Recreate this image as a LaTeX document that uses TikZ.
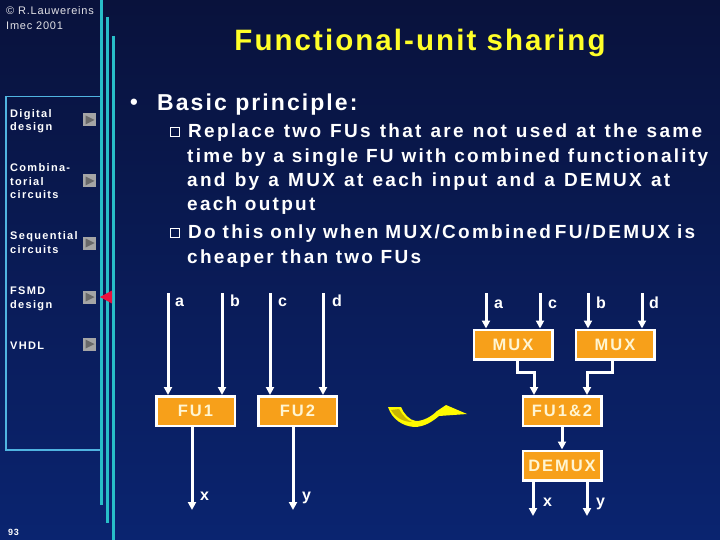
\documentclass[tikz,border=0pt]{standalone}
\usepackage{fontspec}
\setmainfont{Liberation Sans}
\newfontfamily\LSa{Liberation Sans}[LetterSpace=7]
\newfontfamily\LSc{Liberation Sans}[LetterSpace=9]
\newfontfamily\LSb{Liberation Sans}[LetterSpace=12]
\usetikzlibrary{arrows.meta}
\definecolor{bgtop}{RGB}{9,18,60}
\definecolor{bgbot}{RGB}{10,36,112}
\definecolor{fuorange}{RGB}{247,160,26}
\definecolor{ttlyellow}{RGB}{255,255,40}
\definecolor{frameblue}{RGB}{80,180,225}
\definecolor{barteal}{RGB}{40,190,200}
\definecolor{boxtext}{RGB}{255,245,210}
\definecolor{btngray}{RGB}{165,165,165}
\definecolor{btndark}{RGB}{105,105,105}
\definecolor{ptrred}{RGB}{235,15,60}
\definecolor{copygray}{RGB}{225,225,230}
\definecolor{swyellow}{RGB}{255,250,0}
\definecolor{swolive}{RGB}{200,180,0}
\tikzset{
  bar/.style={barteal, line width=3pt},
  sidetext/.style={anchor=base west, inner sep=0pt, text=white, align=left,
    font=\LSb\bfseries\fontsize{11}{13.5}\selectfont},
  btn/.style={fill=btngray, minimum size=13pt, inner sep=0pt},
  subline/.style={anchor=base west, inner sep=0pt, text=white,
    font=\LSb\bfseries\fontsize{19}{24}\selectfont},
  chk/.style={draw=white, line width=1pt, minimum size=9pt, inner sep=0pt},
  fubox/.style={draw=white, line width=2.5pt, fill=fuorange, text=boxtext,
    font=\LSb\bfseries\fontsize{16.5}{18}\selectfont,
    minimum width=78.5pt, minimum height=29.5pt, inner sep=0pt},
  arr/.style={draw=white, line width=3pt, -{Triangle[length=8pt,width=8pt]}},
  lbl/.style={anchor=base west, inner sep=0pt, text=white,
    font=\LSa\bfseries\fontsize{16}{18}\selectfont},
}
\begin{document}
\begin{tikzpicture}[x=1pt,y=-1pt]
\useasboundingbox (0,0) rectangle (720,540);
\shade[top color=bgtop, bottom color=bgbot] (0,0) rectangle (720,540);

% sidebar bars and frame
\draw[bar] (101.5,0) -- (101.5,505);
\draw[bar] (107.5,17) -- (107.5,523);
\draw[bar] (113.5,36) -- (113.5,540);
\draw[frameblue, line width=1.2pt] (100,96.5) -- (6,96.5) -- (6,450) -- (100,450);

% copyright
\node[anchor=base west, inner sep=0pt, text=copygray,
  font=\LSa\fontsize{11}{13}\selectfont] (copy1) at (6,15) {© R.Lauwereins};
\node[anchor=base west, inner sep=0pt, text=copygray,
  font=\LSa\fontsize{11}{13}\selectfont] (copy2) at (6,30) {Imec 2001};

% sidebar items (anchor = baseline of last line)
\node[sidetext] (s1) at (10,131) {Digital\\design};
\node[sidetext] (s2) at (10,199) {Combina-\\torial\\circuits};
\node[sidetext] (s3) at (10,253) {Sequential\\circuits};
\node[sidetext] (s4) at (10,308) {FSMD\\design};
\node[sidetext] (s5) at (10,349) {VHDL};
\foreach \n/\yy in {1/120,2/181,3/243,4/297,5/344}{
  \node[btn] (btn\n) at (89.5,\yy) {};
  \fill[btndark] ([shift={(-4,-4.5)}]btn\n.center) -- ([shift={(-4,4.5)}]btn\n.center)
     -- ([shift={(5,0)}]btn\n.center) -- cycle;
}
\coordinate (ptr) at (100,297);
\fill[ptrred] (ptr) -- ++(12,-6.5) -- ++(0,13) -- cycle;

\node[anchor=base west, inner sep=0pt, text=white,
  font=\LSa\bfseries\fontsize{9}{10}\selectfont] (pg) at (8,535) {93};

% title
\node[anchor=base, inner sep=0pt, text=ttlyellow,
  font=\LSa\bfseries\fontsize{29.5}{32}\selectfont] (title) at (420,51) {Functional-unit sharing};

% text
\node[anchor=base west, inner sep=0pt, text=white,
  font=\bfseries\fontsize{22}{24}\selectfont] (bul) at (130,110) {•};
\node[anchor=base west, inner sep=0pt, text=white,
  font=\LSc\bfseries\fontsize{23}{26}\selectfont] (bp) at (157,111) {Basic principle:};
\node[chk] (chk1) at (175,132.5) {};
\node[subline] (l1) at (188,138) {\makebox[514pt][s]{Replace two FUs that are not used at the same}};
\node[subline] (l2) at (187,162.5) {\makebox[521pt][s]{time by a single FU with combined functionality}};
\node[subline] (l3) at (187,187) {\makebox[483pt][s]{and by a MUX at each input and a DEMUX at}};
\node[subline] (l4) at (187,211) {each output};
\node[chk] (chk2) at (175,233) {};
\node[subline] (l5) at (188,238.5) {\makebox[507pt][s]{Do this only when MUX/Combined\hspace{4pt}FU/DEMUX is}};
\node[subline] (l6) at (187,263) {cheaper than two FUs};

% left diagram
\node[fubox] (fu1) at (195.5,411) {FU1};
\node[fubox] (fu2) at (297.5,411) {FU2};
\coordinate (ia) at (168,293);
\coordinate (ib) at (222,293);
\coordinate (ic) at (270,293);
\coordinate (id) at (323,293);
\draw[arr] (ia) -- (ia |- fu1.north);
\draw[arr] (ib) -- (ib |- fu1.north);
\draw[arr] (ic) -- (ic |- fu2.north);
\draw[arr] (id) -- (id |- fu2.north);
\node[lbl] (la) at (175,306) {a};
\node[lbl] (lb) at (230,306) {b};
\node[lbl] (lc) at (278,306) {c};
\node[lbl] (ld) at (332,306) {d};
\coordinate (ox) at (192,510);
\coordinate (oy) at (293,510);
\draw[arr] (fu1.south -| ox) -- (ox);
\draw[arr] (fu2.south -| oy) -- (oy);
\node[lbl] (lx) at (200,500) {x};
\node[lbl] (ly) at (302,500) {y};

% swoosh arrow
\fill[swyellow] (388,407) -- (401,407)
  .. controls (404,414) and (409,420) .. (416,421)
  .. controls (424,421) and (432,416) .. (437,411)
  -- (446,405) -- (467,414) -- (439,416)
  .. controls (433,421) and (425,427) .. (414,427)
  .. controls (402,426) and (392,419) .. (388,407) -- cycle;
\fill[swolive] (391,410) -- (399,409)
  .. controls (403,416) and (407,420) .. (412,422)
  .. controls (403,422) and (395,417) .. (391,410) -- cycle;

% right diagram
\node[fubox] (mux1) at (513,344.5) {MUX};
\node[fubox] (mux2) at (615,344.5) {MUX};
\node[fubox] (fu12) at (562,411) {FU1\&2};
\node[fubox] (demux) at (562,465.5) {DEMUX};
\coordinate (ra) at (486,293);
\coordinate (rc) at (540,293);
\coordinate (rb) at (588,293);
\coordinate (rd) at (642,293);
\draw[arr] (ra) -- (ra |- mux1.north);
\draw[arr] (rc) -- (rc |- mux1.north);
\draw[arr] (rb) -- (rb |- mux2.north);
\draw[arr] (rd) -- (rd |- mux2.north);
\node[lbl] (lra) at (494,308) {a};
\node[lbl] (lrc) at (548,308) {c};
\node[lbl] (lrb) at (596,308) {b};
\node[lbl] (lrd) at (649,308) {d};
\draw[arr] ([xshift=4pt]mux1.south) -- ++(0,12) -| ([xshift=-28pt]fu12.north);
\draw[arr] ([xshift=-3pt]mux2.south) -- ++(0,12) -| ([xshift=25pt]fu12.north);
\draw[arr] (fu12.south) -- (demux.north);
\coordinate (rx) at (533,516);
\coordinate (ry) at (587,516);
\draw[arr] (demux.south -| rx) -- (rx);
\draw[arr] (demux.south -| ry) -- (ry);
\node[lbl] (lrx) at (543,506) {x};
\node[lbl] (lry) at (596,506) {y};
\end{tikzpicture}
\end{document}
